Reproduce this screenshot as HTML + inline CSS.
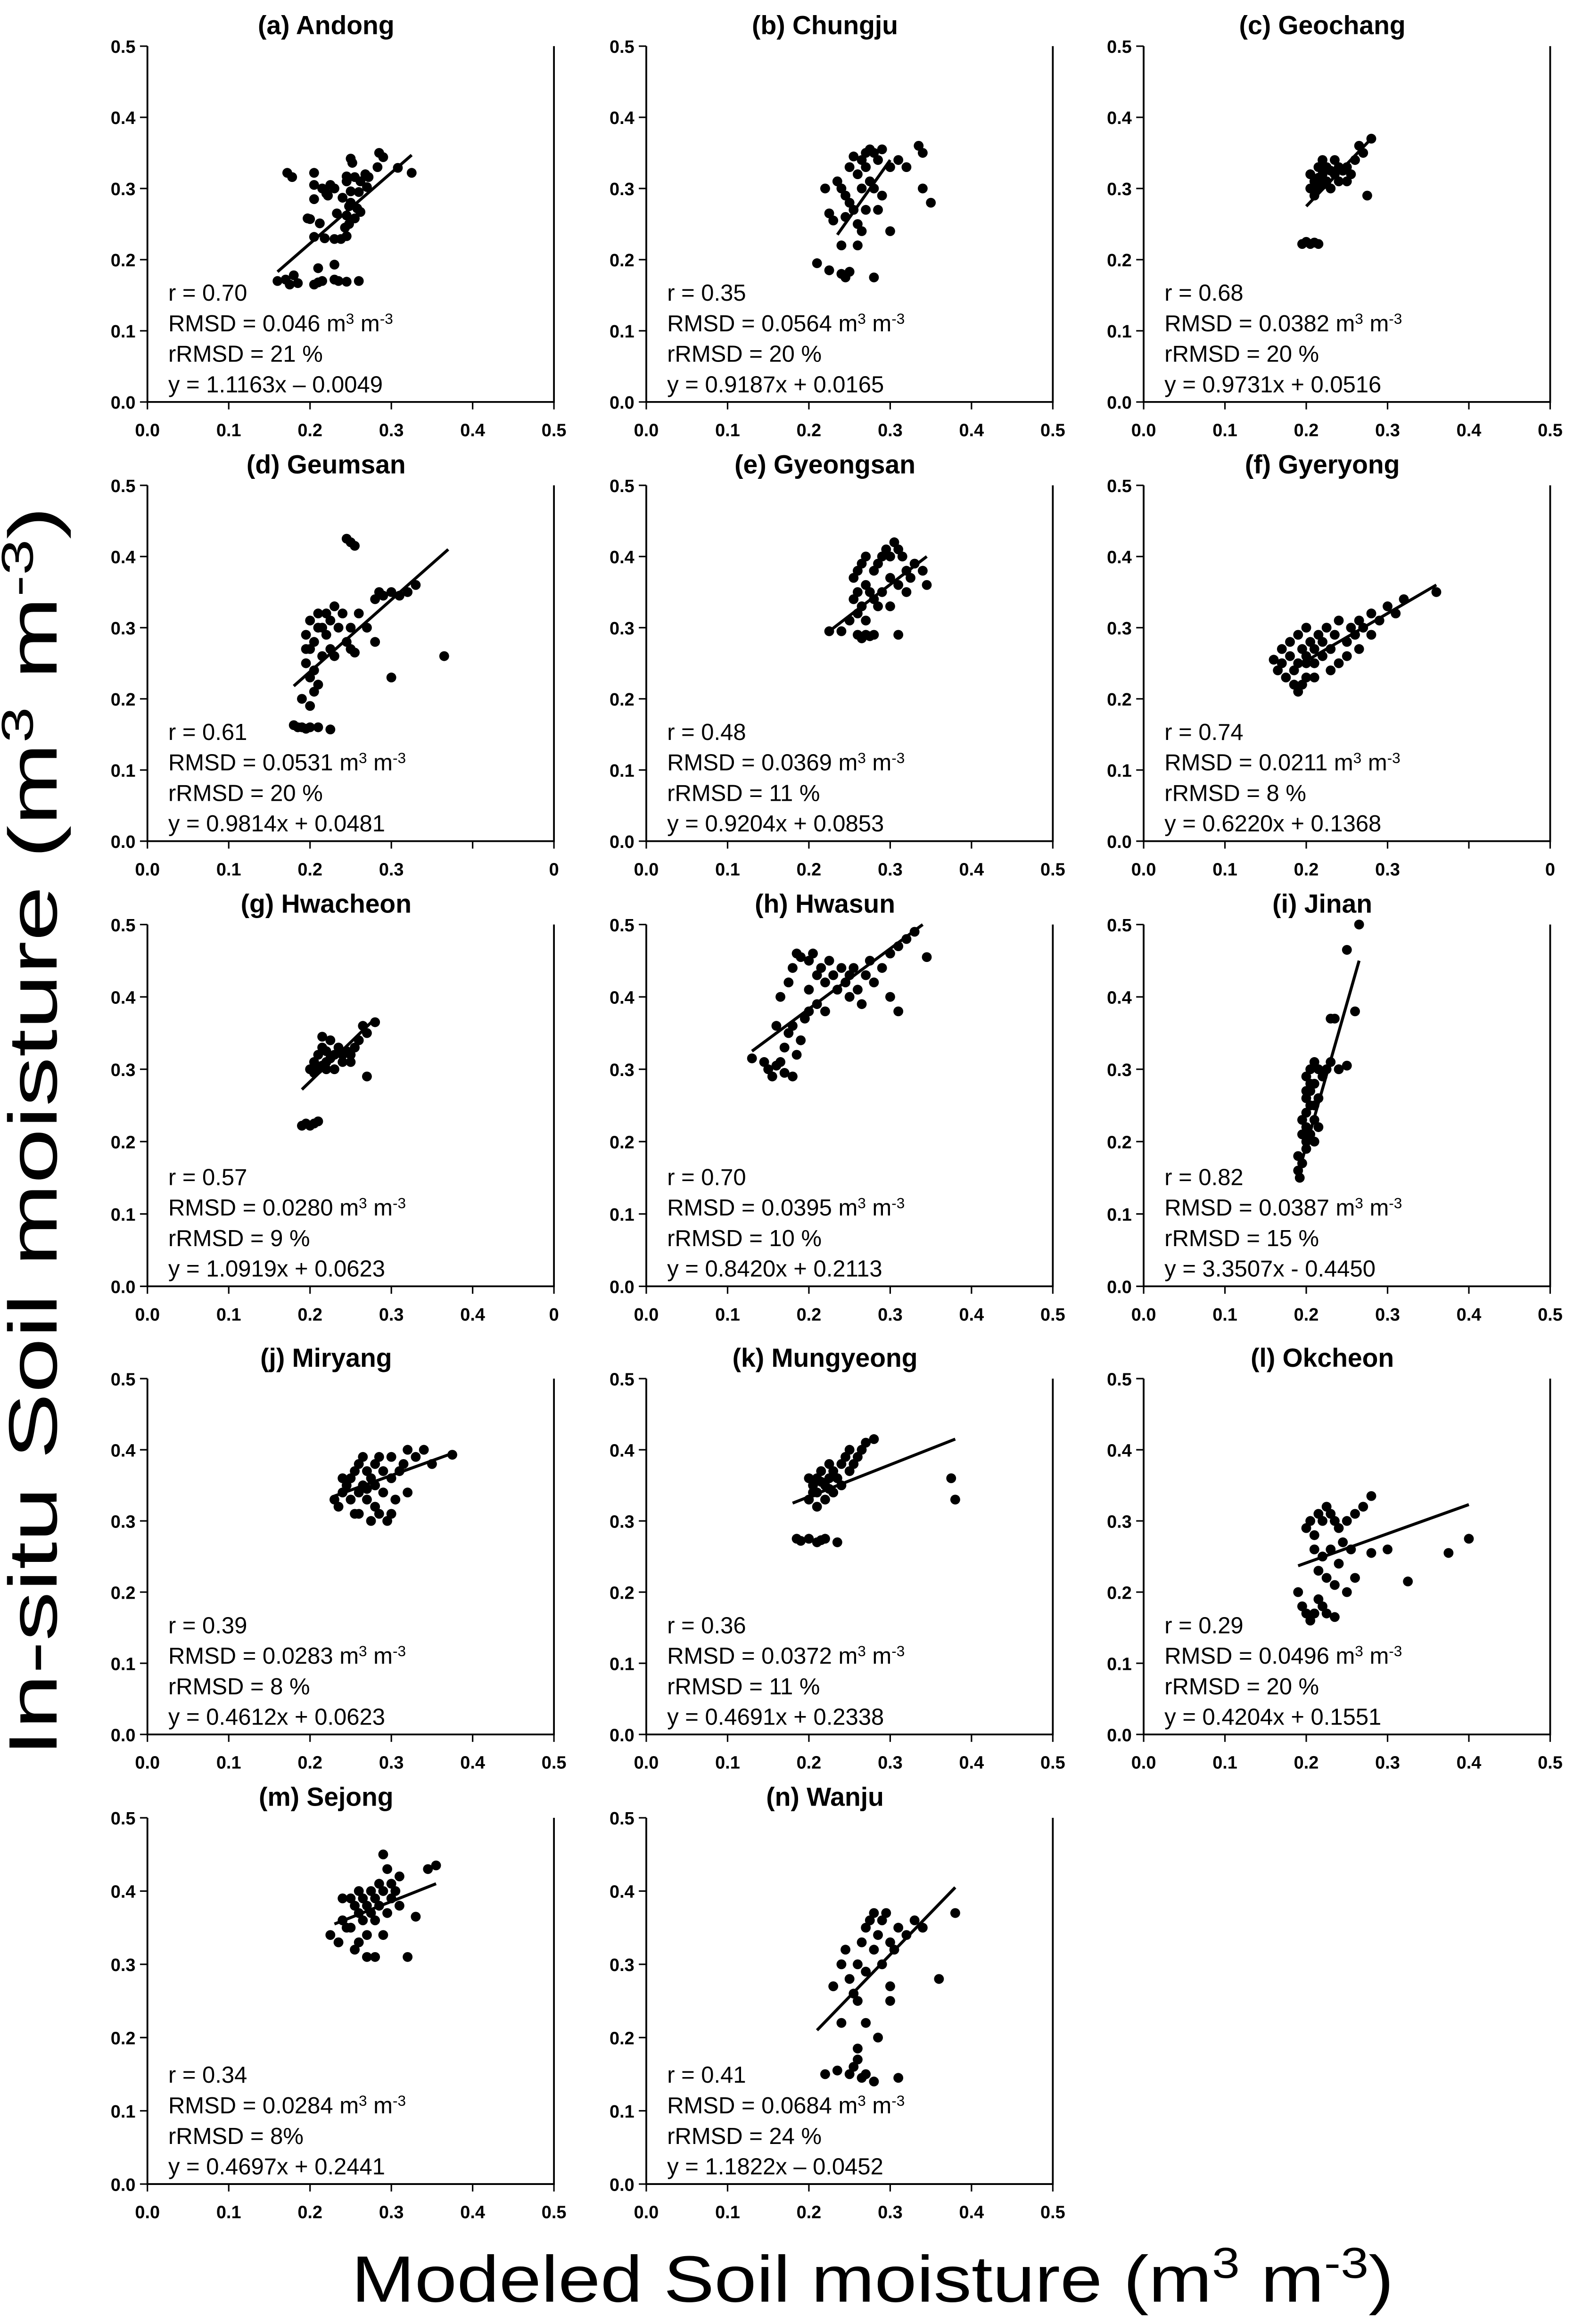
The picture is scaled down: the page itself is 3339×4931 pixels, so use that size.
<!DOCTYPE html>
<html><head><meta charset="utf-8"><style>
html,body{margin:0;padding:0;background:#fff;}
svg{display:block;}
</style></head><body>
<svg id="fig" xmlns="http://www.w3.org/2000/svg" width="3339" height="4931" viewBox="0 0 1057 1561" preserveAspectRatio="none" font-family="Liberation Sans, Arial, sans-serif">
<rect x="0" y="0" width="1057" height="1561" fill="#fff"/>
<text transform="translate(38,760) rotate(-90)" text-anchor="middle" font-size="46" textLength="840" lengthAdjust="spacingAndGlyphs">In-situ Soil moisture (m<tspan font-size="30" dy="-16">3</tspan><tspan dy="16"> m</tspan><tspan font-size="30" dy="-16">-3</tspan><tspan dy="16">)</tspan></text>
<text x="586" y="1546" text-anchor="middle" font-size="44" textLength="700" lengthAdjust="spacingAndGlyphs">Modeled Soil moisture (m<tspan font-size="29" dy="-16">3</tspan><tspan dy="16"> m</tspan><tspan font-size="29" dy="-16">-3</tspan><tspan dy="16">)</tspan></text>
<g id="panels"></g>
</svg>
<script>
const names = ["(a) Andong","(b) Chungju","(c) Geochang","(d) Geumsan","(e) Gyeongsan","(f)  Gyeryong","(g) Hwacheon","(h) Hwasun","(i) Jinan","(j) Miryang","(k) Mungyeong","(l) Okcheon","(m) Sejong","(n) Wanju"];
const rVals = ["0.70","0.35","0.68","0.61","0.48","0.74","0.57","0.70","0.82","0.39","0.36","0.29","0.34","0.41"];
const rmsdVals = ["0.046","0.0564","0.0382","0.0531","0.0369","0.0211","0.0280","0.0395","0.0387","0.0283","0.0372","0.0496","0.0284","0.0684"];
const rrmsdVals = ["21 %","20 %","20 %","20 %","11 %","8 %","9 %","10 %","15 %","8 %","11 %","20 %"," 8%"," 24 %"];
const eqVals = ["y = 1.1163x \u2013 0.0049","y = 0.9187x + 0.0165","y = 0.9731x + 0.0516","y = 0.9814x + 0.0481","y = 0.9204x + 0.0853","y = 0.6220x + 0.1368","y = 1.0919x + 0.0623","y = 0.8420x + 0.2113","y = 3.3507x - 0.4450","y = 0.4612x + 0.0623","y = 0.4691x + 0.2338","y = 0.4204x + 0.1551","y = 0.4697x + 0.2441","y = 1.1822x \u2013 0.0452"];
const yTickLabels = ["0.0","0.1","0.2","0.3","0.4","0.5"];
const xTickLabelsStd = ["0.0","0.1","0.2","0.3","0.4","0.5"];
const xTickLabelsD = ["0.0","0.1","0.2","0.3","","0"];
const xTickLabelsG = ["0.0","0.1","0.2","0.3","0.4","0"];
// regression line endpoints [x0,y0,x1,y1]
const fitLines = [[0.16,0.183,0.325,0.347],[0.235,0.235,0.3,0.34],[0.2,0.275,0.28,0.37],[0.18,0.218,0.37,0.41],[0.225,0.295,0.345,0.4],[0.18,0.24,0.36,0.36],[0.19,0.272,0.28,0.37],[0.13,0.325,0.34,0.5],[0.19,0.155,0.265,0.45],[0.23,0.335,0.375,0.395],[0.18,0.325,0.38,0.415],[0.19,0.237,0.4,0.323],[0.23,0.355,0.355,0.41],[0.21,0.21,0.38,0.405]];
const ptsA = [[0.16,0.17],[0.17,0.172],[0.175,0.165],[0.18,0.178],[0.185,0.167],[0.205,0.165],[0.21,0.168],[0.215,0.17],[0.23,0.172],[0.235,0.17],[0.245,0.169],[0.26,0.17],[0.21,0.188],[0.23,0.193],[0.172,0.322],[0.178,0.316],[0.205,0.322],[0.205,0.305],[0.205,0.285],[0.215,0.3],[0.22,0.293],[0.225,0.305],[0.23,0.3],[0.222,0.29],[0.197,0.258],[0.2,0.257],[0.212,0.251],[0.205,0.232],[0.218,0.23],[0.23,0.229],[0.238,0.229],[0.245,0.233],[0.233,0.265],[0.24,0.287],[0.243,0.245],[0.248,0.25],[0.245,0.262],[0.248,0.275],[0.25,0.28],[0.255,0.258],[0.258,0.272],[0.262,0.267],[0.25,0.296],[0.26,0.295],[0.262,0.31],[0.245,0.317],[0.245,0.31],[0.255,0.316],[0.25,0.342],[0.252,0.336],[0.268,0.32],[0.272,0.316],[0.27,0.302],[0.283,0.33],[0.285,0.35],[0.29,0.344],[0.308,0.329],[0.325,0.322]];
const ptsB = [[0.21,0.195],[0.225,0.185],[0.24,0.18],[0.245,0.175],[0.25,0.183],[0.28,0.175],[0.24,0.22],[0.225,0.265],[0.23,0.255],[0.22,0.3],[0.235,0.31],[0.24,0.3],[0.245,0.29],[0.25,0.28],[0.245,0.26],[0.255,0.27],[0.26,0.25],[0.265,0.3],[0.26,0.32],[0.27,0.33],[0.25,0.33],[0.255,0.345],[0.265,0.34],[0.27,0.35],[0.275,0.355],[0.28,0.35],[0.285,0.34],[0.29,0.355],[0.275,0.31],[0.28,0.3],[0.285,0.27],[0.29,0.29],[0.27,0.27],[0.3,0.33],[0.31,0.34],[0.335,0.36],[0.34,0.35],[0.34,0.3],[0.35,0.28],[0.3,0.24],[0.32,0.33],[0.26,0.22],[0.265,0.24]];
const ptsC = [[0.195,0.222],[0.2,0.225],[0.205,0.222],[0.21,0.224],[0.215,0.222],[0.205,0.3],[0.21,0.31],[0.21,0.29],[0.215,0.315],[0.215,0.3],[0.22,0.32],[0.22,0.305],[0.225,0.33],[0.225,0.31],[0.23,0.325],[0.23,0.3],[0.235,0.34],[0.235,0.32],[0.24,0.33],[0.24,0.31],[0.245,0.325],[0.25,0.33],[0.255,0.32],[0.26,0.34],[0.265,0.36],[0.27,0.35],[0.28,0.37],[0.275,0.29],[0.22,0.34],[0.215,0.33],[0.25,0.31],[0.205,0.32]];
const ptsD = [[0.18,0.163],[0.185,0.16],[0.19,0.16],[0.195,0.158],[0.2,0.16],[0.21,0.16],[0.225,0.157],[0.19,0.2],[0.2,0.19],[0.205,0.21],[0.2,0.23],[0.195,0.25],[0.2,0.27],[0.205,0.28],[0.195,0.29],[0.21,0.3],[0.2,0.31],[0.21,0.32],[0.215,0.3],[0.22,0.29],[0.215,0.26],[0.225,0.31],[0.23,0.33],[0.24,0.32],[0.235,0.3],[0.225,0.27],[0.23,0.26],[0.245,0.28],[0.25,0.27],[0.255,0.265],[0.25,0.3],[0.26,0.32],[0.245,0.425],[0.25,0.42],[0.255,0.415],[0.27,0.3],[0.28,0.34],[0.285,0.35],[0.29,0.345],[0.3,0.35],[0.31,0.345],[0.32,0.35],[0.33,0.36],[0.3,0.23],[0.28,0.28],[0.365,0.26],[0.205,0.24],[0.21,0.22],[0.195,0.27],[0.22,0.32]];
const ptsE = [[0.225,0.295],[0.24,0.295],[0.26,0.29],[0.265,0.285],[0.27,0.29],[0.275,0.288],[0.28,0.29],[0.31,0.29],[0.25,0.31],[0.26,0.32],[0.27,0.31],[0.255,0.34],[0.26,0.35],[0.265,0.33],[0.27,0.36],[0.275,0.35],[0.28,0.34],[0.285,0.33],[0.29,0.35],[0.28,0.38],[0.285,0.39],[0.29,0.4],[0.295,0.41],[0.3,0.4],[0.305,0.42],[0.31,0.41],[0.315,0.4],[0.3,0.37],[0.31,0.36],[0.32,0.38],[0.325,0.37],[0.33,0.39],[0.34,0.38],[0.345,0.36],[0.265,0.39],[0.27,0.4],[0.26,0.38],[0.3,0.33],[0.32,0.35],[0.255,0.37]];
const ptsF = [[0.16,0.255],[0.165,0.24],[0.17,0.25],[0.175,0.23],[0.18,0.26],[0.185,0.24],[0.185,0.22],[0.19,0.21],[0.19,0.25],[0.195,0.27],[0.2,0.23],[0.2,0.26],[0.205,0.28],[0.21,0.25],[0.21,0.27],[0.215,0.29],[0.22,0.26],[0.22,0.28],[0.225,0.3],[0.23,0.27],[0.235,0.29],[0.24,0.25],[0.24,0.31],[0.25,0.28],[0.255,0.3],[0.26,0.29],[0.265,0.31],[0.27,0.3],[0.28,0.32],[0.29,0.31],[0.3,0.33],[0.31,0.32],[0.32,0.34],[0.36,0.35],[0.2,0.3],[0.18,0.28],[0.17,0.27],[0.195,0.22],[0.21,0.23],[0.23,0.24],[0.25,0.26],[0.265,0.27],[0.28,0.29],[0.2,0.25],[0.19,0.29]];
const ptsG = [[0.19,0.222],[0.195,0.225],[0.2,0.222],[0.205,0.225],[0.21,0.228],[0.2,0.3],[0.205,0.31],[0.21,0.3],[0.21,0.32],[0.215,0.305],[0.215,0.33],[0.22,0.31],[0.22,0.325],[0.225,0.34],[0.225,0.315],[0.23,0.32],[0.23,0.3],[0.235,0.33],[0.24,0.32],[0.24,0.31],[0.245,0.325],[0.25,0.31],[0.255,0.33],[0.26,0.34],[0.265,0.36],[0.27,0.35],[0.28,0.365],[0.27,0.29],[0.205,0.295],[0.215,0.345],[0.25,0.32],[0.22,0.3]];
const ptsH = [[0.13,0.315],[0.145,0.31],[0.15,0.3],[0.155,0.29],[0.16,0.305],[0.165,0.31],[0.17,0.295],[0.18,0.29],[0.185,0.32],[0.17,0.33],[0.175,0.35],[0.18,0.36],[0.19,0.34],[0.195,0.37],[0.2,0.38],[0.16,0.36],[0.165,0.4],[0.175,0.42],[0.18,0.44],[0.185,0.46],[0.19,0.455],[0.2,0.45],[0.205,0.46],[0.21,0.43],[0.215,0.44],[0.22,0.42],[0.225,0.45],[0.23,0.43],[0.235,0.41],[0.24,0.44],[0.245,0.42],[0.25,0.4],[0.25,0.43],[0.255,0.44],[0.26,0.41],[0.265,0.39],[0.27,0.43],[0.275,0.45],[0.28,0.42],[0.29,0.44],[0.3,0.46],[0.31,0.47],[0.32,0.48],[0.33,0.49],[0.345,0.455],[0.3,0.4],[0.31,0.38],[0.22,0.38],[0.21,0.39],[0.2,0.41]];
const ptsI = [[0.19,0.16],[0.192,0.15],[0.195,0.17],[0.19,0.18],[0.2,0.2],[0.195,0.21],[0.2,0.22],[0.195,0.23],[0.2,0.24],[0.205,0.25],[0.2,0.26],[0.205,0.27],[0.21,0.28],[0.2,0.29],[0.205,0.3],[0.21,0.31],[0.215,0.3],[0.21,0.25],[0.215,0.22],[0.21,0.2],[0.205,0.21],[0.2,0.19],[0.215,0.26],[0.22,0.29],[0.225,0.3],[0.23,0.31],[0.24,0.3],[0.25,0.305],[0.23,0.37],[0.235,0.37],[0.25,0.465],[0.26,0.38],[0.265,0.5],[0.21,0.23],[0.2,0.27],[0.205,0.28]];
const ptsJ = [[0.23,0.33],[0.235,0.32],[0.24,0.34],[0.245,0.35],[0.25,0.33],[0.25,0.36],[0.255,0.31],[0.255,0.37],[0.26,0.34],[0.26,0.38],[0.265,0.35],[0.265,0.39],[0.27,0.33],[0.27,0.37],[0.275,0.36],[0.275,0.3],[0.28,0.35],[0.28,0.38],[0.285,0.31],[0.285,0.39],[0.29,0.34],[0.29,0.37],[0.295,0.3],[0.3,0.36],[0.3,0.39],[0.305,0.33],[0.31,0.37],[0.315,0.38],[0.32,0.4],[0.33,0.39],[0.34,0.4],[0.35,0.38],[0.375,0.393],[0.24,0.36],[0.26,0.31],[0.3,0.31],[0.32,0.34],[0.27,0.345],[0.28,0.32]];
const ptsK = [[0.185,0.275],[0.19,0.272],[0.2,0.275],[0.21,0.27],[0.215,0.273],[0.22,0.275],[0.235,0.27],[0.2,0.33],[0.205,0.35],[0.21,0.36],[0.205,0.34],[0.21,0.32],[0.215,0.37],[0.22,0.35],[0.22,0.33],[0.225,0.36],[0.225,0.38],[0.23,0.37],[0.23,0.34],[0.235,0.36],[0.24,0.38],[0.245,0.39],[0.25,0.37],[0.25,0.4],[0.255,0.38],[0.26,0.39],[0.27,0.41],[0.28,0.415],[0.265,0.4],[0.2,0.36],[0.215,0.355],[0.24,0.35],[0.375,0.36],[0.38,0.33],[0.21,0.34],[0.225,0.345]];
const ptsL = [[0.19,0.2],[0.195,0.18],[0.2,0.17],[0.205,0.16],[0.21,0.17],[0.215,0.19],[0.22,0.18],[0.225,0.17],[0.235,0.165],[0.2,0.29],[0.205,0.3],[0.21,0.28],[0.215,0.31],[0.22,0.3],[0.225,0.32],[0.23,0.31],[0.235,0.3],[0.24,0.29],[0.25,0.3],[0.26,0.31],[0.27,0.32],[0.28,0.335],[0.22,0.25],[0.215,0.23],[0.225,0.22],[0.23,0.26],[0.24,0.24],[0.235,0.21],[0.245,0.27],[0.255,0.26],[0.26,0.22],[0.28,0.255],[0.3,0.26],[0.325,0.215],[0.375,0.255],[0.4,0.275],[0.21,0.26],[0.25,0.2]];
const ptsM = [[0.225,0.34],[0.235,0.33],[0.24,0.36],[0.245,0.35],[0.25,0.39],[0.255,0.38],[0.255,0.32],[0.26,0.37],[0.26,0.4],[0.265,0.39],[0.265,0.36],[0.27,0.38],[0.27,0.34],[0.275,0.4],[0.275,0.37],[0.28,0.39],[0.28,0.31],[0.285,0.41],[0.285,0.38],[0.29,0.45],[0.29,0.4],[0.295,0.37],[0.295,0.43],[0.3,0.41],[0.3,0.39],[0.305,0.4],[0.31,0.42],[0.32,0.31],[0.33,0.365],[0.345,0.43],[0.355,0.435],[0.25,0.35],[0.27,0.31],[0.26,0.33],[0.28,0.36],[0.29,0.34],[0.31,0.38],[0.24,0.39]];
const ptsN = [[0.22,0.15],[0.235,0.155],[0.25,0.15],[0.255,0.16],[0.26,0.17],[0.265,0.145],[0.27,0.15],[0.28,0.14],[0.31,0.145],[0.26,0.185],[0.24,0.22],[0.27,0.22],[0.23,0.27],[0.24,0.3],[0.245,0.32],[0.25,0.28],[0.255,0.26],[0.26,0.3],[0.265,0.33],[0.27,0.35],[0.27,0.29],[0.275,0.36],[0.28,0.37],[0.28,0.32],[0.285,0.34],[0.29,0.3],[0.29,0.36],[0.295,0.37],[0.3,0.33],[0.3,0.27],[0.305,0.32],[0.31,0.35],[0.32,0.34],[0.33,0.36],[0.34,0.35],[0.36,0.28],[0.38,0.37],[0.3,0.25],[0.285,0.2],[0.26,0.25]];
const allPts = [ptsA,ptsB,ptsC,ptsD,ptsE,ptsF,ptsG,ptsH,ptsI,ptsJ,ptsK,ptsL,ptsM,ptsN];
const xLabelSets = [xTickLabelsStd,xTickLabelsStd,xTickLabelsStd,xTickLabelsD,xTickLabelsStd,xTickLabelsD,xTickLabelsG,xTickLabelsStd,xTickLabelsStd,xTickLabelsStd,xTickLabelsStd,xTickLabelsStd,xTickLabelsStd,xTickLabelsStd];

const NS = "http://www.w3.org/2000/svg";
const colLeft = [99, 434, 768], plotW = 273;
const rowTop = [31, 326, 621, 926, 1221], rowBot = [270, 565, 864, 1165, 1467];
const root = document.getElementById('panels');
function mk(tag, attrs, parent) {
  const e = document.createElementNS(NS, tag);
  for (const k in attrs) e.setAttribute(k, attrs[k]);
  parent.appendChild(e);
  return e;
}
allPts.forEach((pts, i) => {
  const L = colLeft[i % 3], T = rowTop[Math.floor(i / 3)], B = rowBot[Math.floor(i / 3)];
  const sx = v => L + v / 0.5 * plotW;
  const sy = v => B - v / 0.5 * (B - T);
  const g = mk('g', {}, root);
  
  
  const t = mk('text', {x: L + 120, y: T - 8, 'text-anchor': 'middle', 'font-size': 17.5, 'font-weight': 'bold'}, g);
  
  
  t.textContent = names[i];
  const fr = mk('path', {d: `M${L},${T}V${B}H${L + plotW}V${T}`, fill: 'none', stroke: '#000', 'stroke-width': 1.2}, g);
  
  
  yTickLabels.forEach((lab, k) => {
    const v = k * 0.1, y = sy(v);
    mk('line', {x1: L - 5, x2: L, y1: y, y2: y, stroke: '#000', 'stroke-width': 1}, g);
    const tl = mk('text', {x: L - 8, y: y + 4.5, 'text-anchor': 'end', 'font-size': 12, 'font-weight': 'bold'}, g);
    
    
    tl.textContent = lab;
  });
  xLabelSets[i].forEach((lab, k) => {
    const v = k * 0.1, x = sx(v);
    mk('line', {x1: x, x2: x, y1: B, y2: B + 5, stroke: '#000', 'stroke-width': 1}, g);
    const tl = mk('text', {x: x, y: B + 23, 'text-anchor': 'middle', 'font-size': 12, 'font-weight': 'bold'}, g);
    
    
    tl.textContent = lab;
  });
  pts.forEach(p => {
    const c = mk('circle', {cx: sx(p[0]), cy: sy(p[1]), r: 3.3, fill: '#000'}, g);
    
    
  });
  const f = fitLines[i];
  const ln = mk('line', {x1: sx(f[0]), y1: sy(f[1]), x2: sx(f[2]), y2: sy(f[3]), stroke: '#000', 'stroke-width': 2}, g);
  
  
  const tx = L + 14, base = B - 68;
  const st = mk('g', {'font-size': 15.5}, g);
  
  
  const l1 = mk('text', {x: tx, y: base}, st); l1.textContent = 'r = ' + rVals[i];
  const l2 = mk('text', {x: tx, y: base + 20.5}, st);
  l2.innerHTML = 'RMSD = ' + rmsdVals[i] + ' m<tspan font-size="10" dy="-5">3</tspan><tspan dy="5"> m</tspan><tspan font-size="10" dy="-5">-3</tspan>';
  const l3 = mk('text', {x: tx, y: base + 41}, st); l3.textContent = 'rRMSD = ' + rrmsdVals[i];
  const l4 = mk('text', {x: tx, y: base + 61.5}, st); l4.textContent = eqVals[i];
});
</script>
</body></html>
